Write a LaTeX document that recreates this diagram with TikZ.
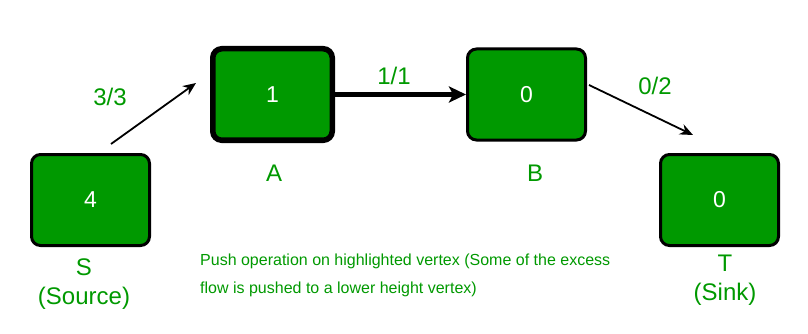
\documentclass[tikz,border=0pt]{standalone}
\usepackage{fontspec}
\setmainfont{Liberation Sans}
\usepackage{tikz}
\usetikzlibrary{arrows.meta}

\definecolor{gfg}{RGB}{0,153,0}

\tikzset{
  vertex/.style={draw, line width=3pt, fill=gfg, rounded corners=9pt,
    minimum width=118pt, minimum height=91pt, text=white, font=\fontsize{23}{27}\selectfont},
  active/.style={vertex, line width=5.5pt, minimum width=119.5pt, minimum height=91.5pt},
  lbl/.style={text=gfg, font=\fontsize{24}{28}\selectfont, align=center, inner sep=0pt},
  flow/.style={-{Stealth[length=13pt,width=11pt]}, line width=1.8pt},
  push/.style={-{Stealth[length=17pt,width=16pt,inset=4pt]}, line width=4.5pt}
}

\begin{document}
\begin{tikzpicture}[x=1pt,y=-1pt]
			\useasboundingbox (0,0) rectangle (808,334);

			% vertices
			\node[vertex] (S) at (90.5,200) {4};
			\node[active] (A) at (272.5,94.5) {1};
			\node[vertex] (B) at (526.5,94.5) {0};
			\node[vertex] (T) at (719.5,200) {0};

			% vertex names
			\node[lbl] (Sname) at (84,284) {S\\[1pt](Source)};
			\node[lbl] (Aname) at (274,173) {A};
			\node[lbl] (Bname) at (535,173) {B};
			\node[lbl] (Tname) at (725,280) {T\\[1pt](Sink)};

			% free ends of the thin arrows
			\coordinate (sa) at (111,144);
			\coordinate (as) at (196,83);
			\coordinate (bt) at (589,85);
			\coordinate (tb) at (693,135);

			% edges
			\draw[flow] (sa) -- (as);
			\draw[push] (A) -- (B.west);
			\draw[flow] (bt) -- (tb);

			% capacities
			\node[lbl] (cSA) at (110,97) {3/3};
			\node[lbl] (cAB) at (394,76) {1/1};
			\node[lbl] (cBT) at (655,86) {0/2};

			% note
			\node[text=gfg, font=\fontsize{16}{28}\selectfont, align=left, anchor=north west, inner sep=0pt]
				(note) at (200,254) {Push operation on highlighted vertex (Some of the excess\\flow is pushed to a lower height vertex)};
		\end{tikzpicture}
\end{document}
